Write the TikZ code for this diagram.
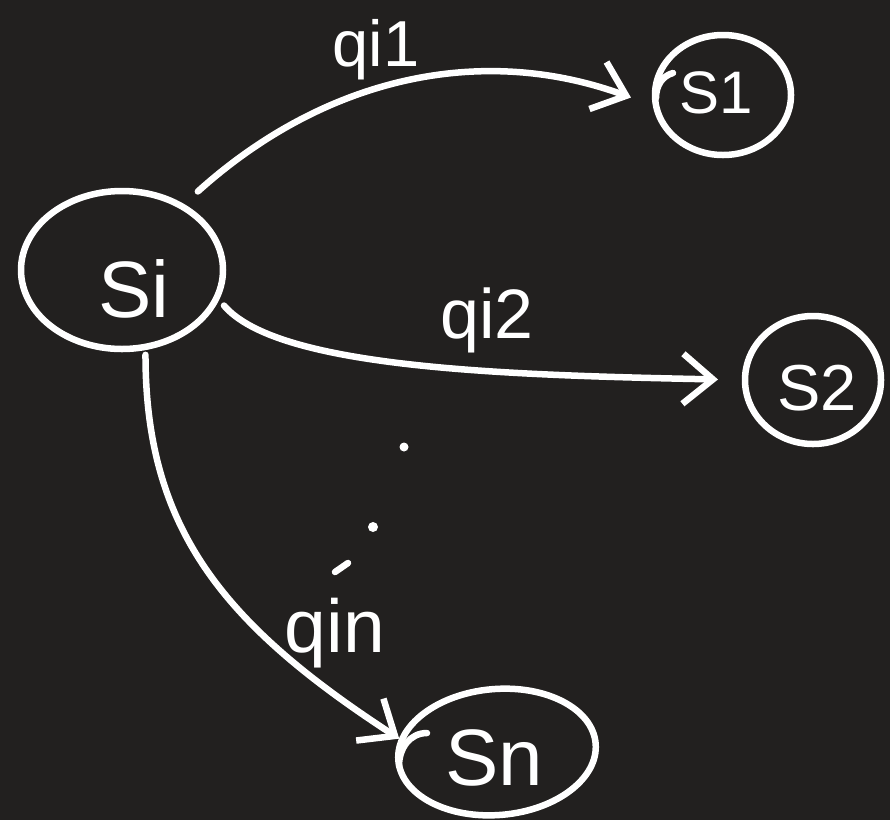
\documentclass[tikz,border=0pt]{standalone}
\usepackage{fontspec}
\setmainfont{Liberation Sans}
\usetikzlibrary{shapes.geometric,arrows.meta}
\definecolor{bg}{RGB}{34,32,31}
\begin{document}
\begin{tikzpicture}[x=1pt,y=-1pt,
  ink/.style={draw=white,line width=6.5pt,line cap=round,line join=round},
  st/.style={ellipse,ink,inner sep=0pt,outer sep=0pt},
  edge/.style={ink,-{Straight Barb[length=30pt,width=50pt]}},
  lbl/.style={text=white,inner sep=0pt}]
\useasboundingbox (0,0) rectangle (890,820);
\fill[bg] (0,0) rectangle (890,820);
% states
\node[st,minimum width=202pt,minimum height=158pt] (Si) at (122,270) {};
\node[st,minimum width=136pt,minimum height=120pt] (S1) at (723,95) {};
\node[st,minimum width=136pt,minimum height=128pt] (S2) at (813,380) {};
\node[st,minimum width=198pt,minimum height=126pt,rotate=5] (Sn) at (497,752) {};
% pen overlaps where the circles were started
\draw[ink] (673,73) .. controls (662,76) and (656,86) .. (656,98);
\draw[ink] (427,733) .. controls (410,733) and (399,748) .. (399,766);
% state texts
\node[lbl,font=\fontsize{80}{80}\selectfont] (SiT) at (134,289) {Si};
\node[lbl,font=\fontsize{60}{60}\selectfont] (S1T) at (716,93) {S1};
\node[lbl,font=\fontsize{65}{65}\selectfont] (S2T) at (817,388) {S2};
\node[lbl,font=\fontsize{80}{80}\selectfont] (SnT) at (494,758) {Sn};
% transitions
\draw[edge,shorten <=22pt,shorten >=27pt] (Si.47) to[out=42,in=160] (S1.190);
\draw[edge,shorten <=11pt,shorten >=27pt] (Si.-16) .. controls +(60,70) and +(-250,-5) .. (S2.west);
\draw[edge,shorten <=8pt,shorten >=3pt] (Si.-73) .. controls +(0,183) and +(-177,-115) .. (Sn.168);
% transition labels
\node[lbl,font=\fontsize{65}{65}\selectfont] (q1) at (376,50) {qi1};
\node[lbl,font=\fontsize{70}{70}\selectfont] (q2) at (487,320) {qi2};
\node[lbl,font=\fontsize{75}{75}\selectfont] (qn) at (335,633) {qin};
% vertical ellipsis
\fill[white] (404,447) circle (4.5pt);
\fill[white] (373,527) circle (5pt);
\draw[ink] (335,572) -- (348,563);
\end{tikzpicture}
\end{document}
